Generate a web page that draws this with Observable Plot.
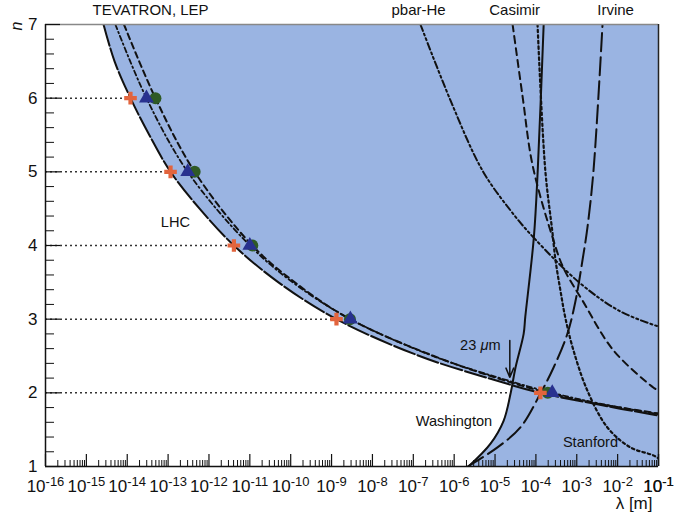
<!DOCTYPE html>
<html><head><meta charset="utf-8">
<script src="https://cdn.jsdelivr.net/npm/d3@7"></script>
<script src="https://cdn.jsdelivr.net/npm/@observablehq/plot@0.6"></script>
<style>body{margin:0;background:#fff} svg{display:block}</style>
</head><body><div id="chart"></div>
<script>
// ---- data (log10 of lambda in metres, n = number of extra dimensions)
const nLevels = [2, 3, 4, 5, 6];
const crossLog = [-3.89, -8.88, -11.39, -12.94, -13.92];
const triLog   = [-3.60, -8.54, -11.00, -12.52, -13.53];
const circLog  = [-3.71, -8.55, -10.94, -12.35, -13.31];
const dottedEndLog = [-4.62, -8.88, -11.39, -12.94, -13.92];

const boundaryN   = [7, 6.5, 6, 5.5, 5, 4.5, 4, 3.5, 3, 2.5, 2.2, 2, 1.85, 1.69];
const boundaryLog = [-14.58, -14.31, -13.92, -13.46, -12.94, -12.23, -11.39, -10.30, -8.88, -6.85, -5.17, -3.89, -2.56, -1.0];
const triLineN    = [7, 6, 5, 4, 3.5, 3, 2.5, 2.2, 2, 1.85, 1.71];
const triLineLog  = [-14.29, -13.53, -12.52, -11.00, -9.95, -8.54, -6.52, -4.88, -3.60, -2.40, -1.0];
const circLineN   = [7, 6, 5, 4, 3.5, 3, 2.5, 2.2, 2, 1.85, 1.72];
const circLineLog = [-14.08, -13.31, -12.35, -10.94, -9.90, -8.55, -6.50, -4.95, -3.71, -2.45, -1.0];

const washN   = [1.0, 1.31, 1.62, 1.99, 2.34, 2.8, 3.03, 4.11, 5.02, 7.0];
const washLog = [-5.65, -5.11, -4.79, -4.62, -4.50, -4.30, -4.26, -4.05, -3.955, -3.81];
const irvN    = [1.0, 1.26, 1.53, 1.99, 2.34, 2.8, 3.25, 3.8, 4.24, 5.02, 7.0];
const irvLog  = [-5.67, -4.94, -4.38, -3.89, -3.57, -3.23, -3.03, -2.86, -2.74, -2.59, -2.37];
const pbarN   = [7.0, 5.97, 5.02, 4.475, 4.11, 3.484, 3.104, 2.90];
const pbarLog = [-6.825, -6.09, -5.31, -4.62, -4.06, -2.91, -1.93, -1.0];
const casDashN   = [7.0, 6.04, 5.086, 4.07, 3.70, 3.253, 2.575, 2.07, 2.03];
const casDashLog = [-4.57, -4.33, -4.08, -3.57, -3.33, -2.86, -2.10, -1.12, -1.0];
const casDotN   = [7.0, 5.02, 4.20, 3.80, 3.39, 3.02, 2.575, 2.03, 1.53, 1.26, 1.15, 1.11];
const casDotLog = [-3.96, -3.77, -3.60, -3.52, -3.40, -3.28, -3.08, -2.74, -2.25, -1.69, -1.12, -1.0];

const topLabels = ["TEVATRON, LEP", "pbar-He", "Casimir", "Irvine"];
const topLabelLog = [-13.43, -6.87, -4.52, -2.05];
const innerLabels = ["LHC", "23 μm", "Washington", "Stanford"];
const innerLabelLog = [-12.82, -5.36, -6.005, -2.665];
const innerLabelN = [4.31, 2.64, 1.61, 1.326];
const arrowLam = 2.3e-5, arrowN = [2.71, 2.21];

const yTickLabels = [1, 2, 3, 4, 5, 6, 7];
const decadeExp = d3.range(-16, 0); // -16 .. -1

// ---- build tables
const pts = (N, L) => N.map((n, i) => ({n, lam: 10 ** L[i]}));
const boundary = pts(boundaryN, boundaryLog);
const triLine = pts(triLineN, triLineLog);
const circLine = pts(circLineN, circLineLog);
const wash = pts(washN, washLog);
const irv = pts(irvN, irvLog);
const pbar = pts(pbarN, pbarLog);
const casDash = pts(casDashN, casDashLog);
const casDot = pts(casDotN, casDotLog);
const crosses = pts(nLevels, crossLog);
const tris = pts(nLevels, triLog);
const circs = pts(nLevels, circLog);
const dotted = nLevels.map((n, i) => ({n, end: 10 ** dottedEndLog[i]}));
const tops = topLabels.map((t, i) => ({t, lam: 10 ** topLabelLog[i]}));
const inners = innerLabels.map((t, i) => ({t, lam: 10 ** innerLabelLog[i], n: innerLabelN[i]}));

const majorX = decadeExp.map(e => 10 ** e).concat([0.1]);
const minorX = [];
for (const e of d3.range(-16, -1)) for (let k = 2; k <= 9; k++) minorX.push(k * 10 ** e);
const majorY = yTickLabels;
const minorY = d3.range(1.2, 7, 0.2).filter(v => Math.abs(v - Math.round(v)) > 0.01);

const BLUE = "#9ab4e2";
const curve = "catmull-rom";

const plot = Plot.plot({
  width: 679, height: 516,
  marginLeft: 45, marginRight: 21, marginTop: 24, marginBottom: 50,
  style: {fontFamily: "'Liberation Sans', Arial, sans-serif", fontSize: "14px", background: "white", color: "#111"},
  x: {type: "log", domain: [1e-16, 1e-1], axis: null},
  y: {domain: [1, 7], axis: null},
  marks: [
    Plot.frame({fill: BLUE, stroke: null}),
    Plot.rect([0], {x1: 1e-16, x2: 10 ** -14.55, y1: 1, y2: 7, fill: "white"}),
    Plot.areaY(boundary, {x: "lam", y1: 1, y2: "n", fill: "white", curve, clip: true}),
    Plot.areaX(wash, {y: "n", x1: "lam", x2: 0.1, fill: BLUE, curve, clip: true}),
    // experiment curves
    Plot.line(pbar, {x: "lam", y: "n", stroke: "#111", strokeWidth: 2, strokeDasharray: "7,3,2,3,2,3", curve, clip: true}),
    Plot.line(casDash, {x: "lam", y: "n", stroke: "#111", strokeWidth: 2, strokeDasharray: "7,5", curve, clip: true}),
    Plot.line(casDot, {x: "lam", y: "n", stroke: "#111", strokeWidth: 2.2, strokeDasharray: "2.5,3", curve, clip: true}),
    Plot.line(irv, {x: "lam", y: "n", stroke: "#111", strokeWidth: 2, strokeDasharray: "18,6", curve, clip: true}),
    Plot.line(wash, {x: "lam", y: "n", stroke: "#111", strokeWidth: 2, curve, clip: true}),
    Plot.line(circLine, {x: "lam", y: "n", stroke: "#111", strokeWidth: 2, strokeDasharray: "6,4", curve, clip: true}),
    Plot.line(triLine, {x: "lam", y: "n", stroke: "#111", strokeWidth: 1.8, strokeDasharray: "5,3,1.5,3", curve, clip: true}),
    Plot.line(boundary, {x: "lam", y: "n", stroke: "#111", strokeWidth: 2, strokeDasharray: "22,3", curve, clip: true}),
    // dotted guides
    Plot.ruleY(dotted, {y: "n", x1: 1e-16, x2: "end", stroke: "#333", strokeWidth: 1.5, strokeDasharray: "2,3"}),
    // markers
    Plot.dot(circs, {x: "lam", y: "n", r: 6, fill: "#2f5a26", stroke: null}),
    Plot.dot(tris, {x: "lam", y: "n", r: 5.5, symbol: "triangle", fill: "#28318f", stroke: null}),
    Plot.dot(crosses, {x: "lam", y: "n", r: 5.3, symbol: "cross", fill: "#e2643d", stroke: null}),
    // annotations
    Plot.text(inners, {x: "lam", y: "n", text: "t", fontSize: 14.6, fill: "#111"}),
    Plot.arrow([0], {x1: arrowLam, x2: arrowLam, y1: arrowN[0], y2: arrowN[1], bend: 0, headLength: 10, headAngle: 45, stroke: "#111", strokeWidth: 1.5}),
    Plot.text(tops, {x: "lam", y: 7, dy: -14, text: "t", fontSize: 15, fill: "#111"}),
    // frame lines
    Plot.ruleY([7], {stroke: "#888", strokeWidth: 1.5}),
    Plot.ruleX([0.1], {stroke: "#222", strokeWidth: 1.5}),
    Plot.ruleX([1e-16], {stroke: "#111", strokeWidth: 1.5}),
    Plot.ruleY([1], {stroke: "#111", strokeWidth: 1.5}),
    // ticks (inward)
    Plot.ruleX(majorX, {x: d => d, y1: 1, y2: 1, insetBottom: 12, stroke: "#111", strokeWidth: 1.2}),
    Plot.ruleX(minorX, {x: d => d, y1: 1, y2: 1, insetBottom: 6, stroke: "#111", strokeWidth: 1}),
    Plot.ruleY(majorY, {y: d => d, x1: 1e-16, x2: 1e-16, insetRight: -15, stroke: "#111", strokeWidth: 1.2}),
    Plot.ruleY(minorY, {y: d => d, x1: 1e-16, x2: 1e-16, insetRight: -9, stroke: "#111", strokeWidth: 1}),
    // axes labels
    Plot.axisY({ticks: majorY, tickSize: 0, tickPadding: 8, fontSize: 17, label: null, tickFormat: d => String(d)}),
    Plot.axisX({ticks: majorX, tickSize: 0, tickPadding: 13, fontSize: 17, label: null, tickFormat: d => String(Math.round(Math.log10(d)))}),
    Plot.text(["λ [m]"], {frameAnchor: "bottom-right", dx: -6, dy: 42, textAnchor: "end", fontSize: 17, fill: "#111"}),
    Plot.text(["n"], {frameAnchor: "top-left", dx: -35, dy: 6, rotate: -90, fontSize: 16, fontStyle: "italic", fill: "#111"})
  ]
});

document.getElementById("chart").appendChild(plot);

// superscript exponents on x tick labels
d3.select(plot).selectAll('g[aria-label="x-axis tick label"] text').each(function() {
  const e = this.textContent;
  this.textContent = "";
  const t = d3.select(this);
  t.append("tspan").text("10");
  t.append("tspan").attr("dy", "-6").attr("font-size", 13).text(e);
});
// italic mu in "23 μm"
d3.select(plot).selectAll("text").each(function() {
  if (this.textContent === "23 μm") {
    this.textContent = "";
    const t = d3.select(this);
    t.append("tspan").text("23 ");
    t.append("tspan").attr("font-style", "italic").text("μ");
    t.append("tspan").text("m");
  }
});
</script>
</body></html>
